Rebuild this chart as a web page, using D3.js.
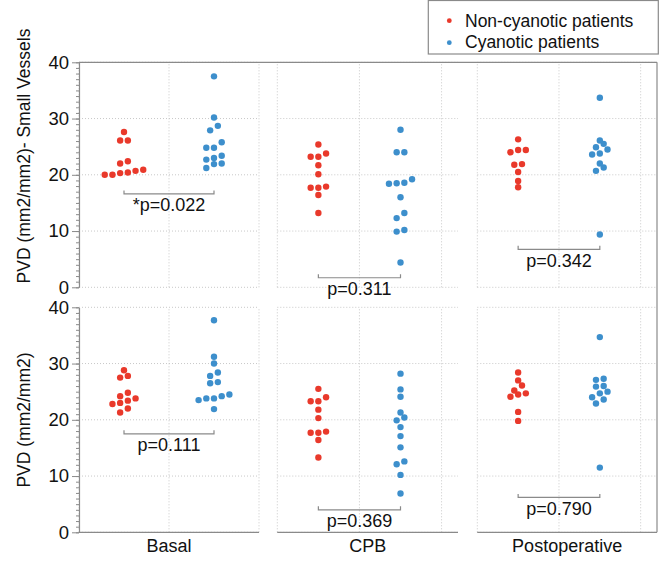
<!DOCTYPE html>
<html>
<head>
<meta charset="utf-8">
<script src="https://cdn.jsdelivr.net/npm/d3@7"></script>
<style>
  body { margin: 0; background: #fff; }
  text { font-family: Helvetica, "Liberation Sans", Arial, sans-serif; }
</style>
</head>
<body>
<div class="canvas"></div>
<script>
// Data
const groups = ['Non-cyanotic patients', 'Cyanotic patients'];
const periods = ['Basal', 'CPB', 'Postoperative'];
const rowTitles = ['PVD (mm2/mm2)- Small Vessels', 'PVD (mm2/mm2)'];

// small vessels, one array per period
const smallNon = [
    [20.0, 20.0, 20.3, 20.4, 20.7, 20.9, 22.0, 22.4, 26.1, 26.1, 27.6],
    [13.2, 16.4, 17.7, 17.7, 17.9, 20.1, 21.7, 23.2, 23.2, 23.8, 25.4],
    [17.8, 18.9, 20.5, 21.8, 21.9, 24.0, 24.4, 24.4, 26.3]
];
const smallCyan = [
    [21.2, 21.9, 22.0, 22.7, 23.0, 23.4, 24.8, 24.8, 25.8, 27.9, 28.7, 30.2, 37.5],
    [4.4, 9.9, 10.2, 12.3, 13.2, 16.0, 18.4, 18.5, 18.6, 19.2, 24.0, 24.0, 28.0],
    [9.4, 20.7, 21.3, 22.0, 23.6, 23.8, 24.5, 24.9, 25.5, 26.1, 33.7]
];

// all vessels
const totalNon = [
    [21.3, 22.0, 22.8, 23.0, 23.4, 23.8, 24.2, 24.8, 27.5, 27.8, 28.8],
    [13.3, 16.4, 17.7, 17.7, 17.9, 20.3, 21.8, 23.3, 23.3, 24.0, 25.5],
    [19.8, 21.4, 24.1, 24.5, 24.7, 25.2, 26.1, 27.0, 28.4]
];
const totalCyan = [
    [21.9, 23.5, 23.8, 23.8, 24.2, 24.5, 26.5, 26.7, 27.8, 28.4, 30.0, 31.2, 37.7],
    [6.9, 10.2, 12.1, 12.6, 15.1, 17.1, 18.7, 19.9, 20.4, 21.3, 24.1, 25.4, 28.2],
    [11.5, 22.9, 23.6, 24.0, 24.7, 25.0, 25.9, 26.0, 27.1, 27.3, 34.7]
];

const pSmall = ['*p=0.022', 'p=0.311', 'p=0.342'];
const pTotal = ['p=0.111', 'p=0.369', 'p=0.790'];
const yTicks = [0, 10, 20, 30, 40];

// Layout
const dims = { width: 662, height: 561, rowH: 225 };
const colors = ['#e9392b', '#3d8fcc'];
const axisColor = '#8a8a8a';
const gridColor = '#c8c8c8';

const rows = [
    { title: rowTitles[0], non: smallNon, cyan: smallCyan, p: pSmall, top: 62.3, bracket: [16.6, 1.7, 6.75], titleY: 156 },
    { title: rowTitles[1], non: totalNon, cyan: totalCyan, p: pTotal, top: 307.3, bracket: [17.5, 4.0, 6.2], titleY: 420 }
];
const cols = [
    { x0: 79, x1: 259, dom: [0.5, 2.5] },
    { x0: 277.3, x1: 458, dom: [0.5, 2.7] },
    { x0: 477.3, x1: 657, dom: [0.5, 2.7] }
];

const svg = d3.select('.canvas')
    .append('svg')
    .attr('width', dims.width)
    .attr('height', dims.height);

// spread points of similar value side by side (simple dot-density binning)
const spread = (values, bw) => {
    const sorted = values.map(v => ({ v })).sort((a, b) => a.v - b.v);
    const bins = [];
    let cur = null;
    sorted.forEach(d => {
        if (!cur || d.v >= cur.start + bw) {
            cur = { start: d.v, items: [] };
            bins.push(cur);
        }
        cur.items.push(d);
    });
    bins.forEach(b => b.items.forEach((d, i) => d.k = i - (b.items.length - 1) / 2));
    return sorted;
};

rows.forEach((row, r) => {
    const y = d3.scaleLinear().domain([0, 40]).range([row.top + dims.rowH, row.top]);

    cols.forEach((col, c) => {
        const x = d3.scaleLinear().domain(col.dom).range([col.x0, col.x1]);
        const g = svg.append('g');

        // dotted grid
        g.selectAll('line.hgrid')
            .data(yTicks)
            .enter().append('line')
                .attr('x1', col.x0).attr('x2', col.x1)
                .attr('y1', d => y(d)).attr('y2', d => y(d))
                .attr('stroke', gridColor)
                .attr('stroke-dasharray', '1,2');

        g.selectAll('line.vgrid')
            .data([0.5, 1.5, 2.5])
            .enter().append('line')
                .attr('x1', d => x(d)).attr('x2', d => x(d))
                .attr('y1', y(0)).attr('y2', y(40))
                .attr('stroke', gridColor)
                .attr('stroke-dasharray', '1,2');

        // points
        [row.non[c], row.cyan[c]].forEach((vals, gi) => {
            g.selectAll(null)
                .data(spread(vals, 1.05))
                .enter().append('circle')
                    .attr('cx', d => x(gi + 1) + d.k * 7.7)
                    .attr('cy', d => y(d.v))
                    .attr('r', 3.2)
                    .attr('fill', colors[gi]);
        });

        // p-value bracket
        const by = y(row.bracket[c]);
        g.append('path')
            .attr('d', `M${x(1)},${by - 3.5}V${by}H${x(2)}V${by - 3.5}`)
            .attr('fill', 'none')
            .attr('stroke', axisColor)
            .attr('stroke-width', 1.2);

        g.append('text')
            .attr('x', x(1.5))
            .attr('y', by + 17.5)
            .attr('text-anchor', 'middle')
            .attr('font-size', 18)
            .attr('fill', '#111')
            .text(row.p[c]);

        // bottom axis line and category label (lower row only)
        if (r === 1) {
            g.append('line')
                .attr('x1', col.x0).attr('x2', col.x1)
                .attr('y1', y(0)).attr('y2', y(0))
                .attr('stroke', axisColor)
                .attr('stroke-width', 1.2);

            g.append('text')
                .attr('x', (col.x0 + col.x1) / 2)
                .attr('y', 552)
                .attr('text-anchor', 'middle')
                .attr('font-size', 18)
                .attr('fill', '#111')
                .text(periods[c]);
        }
    });

    // left axis: minor ticks then major ticks with labels
    const minor = svg.append('g')
        .attr('transform', `translate(${cols[0].x0}, 0)`)
        .call(d3.axisLeft(y).tickValues(d3.range(0, 41, 1)).tickSize(3).tickSizeOuter(0).tickFormat(''));
    minor.select('.domain').remove();
    minor.selectAll('line').attr('stroke', axisColor);

    const major = svg.append('g')
        .attr('transform', `translate(${cols[0].x0}, 0)`)
        .call(d3.axisLeft(y).tickValues(yTicks).tickSize(7).tickSizeOuter(0));
    major.select('.domain').attr('stroke', axisColor).attr('stroke-width', 1.2);
    major.selectAll('line').attr('stroke', axisColor);
    major.selectAll('text')
        .attr('font-size', 18.5)
        .attr('fill', '#111')
        .style('font-family', 'Helvetica, "Liberation Sans", Arial, sans-serif');

    svg.append('text')
        .attr('transform', `translate(30, ${row.titleY}) rotate(-90)`)
        .attr('text-anchor', 'middle')
        .attr('font-size', 17.5)
        .attr('fill', '#111')
        .text(row.title);
});

// top border and right border
svg.append('line')
    .attr('x1', cols[0].x0).attr('x2', cols[2].x1)
    .attr('y1', rows[0].top).attr('y2', rows[0].top)
    .attr('stroke', axisColor).attr('stroke-width', 1.2);
svg.append('line')
    .attr('x1', cols[2].x1).attr('x2', cols[2].x1)
    .attr('y1', rows[0].top).attr('y2', rows[1].top + dims.rowH)
    .attr('stroke', axisColor).attr('stroke-width', 1.2);

// Legend
const legendGroup = svg.append('g');
legendGroup.append('rect')
    .attr('x', 428.3).attr('y', 0.5)
    .attr('width', 230).attr('height', 53.5)
    .attr('fill', '#fff')
    .attr('stroke', axisColor)
    .attr('stroke-width', 1.2);

groups.forEach((name, i) => {
    legendGroup.append('circle')
        .attr('cx', 449.3)
        .attr('cy', 20.7 + i * 22)
        .attr('r', 2.4)
        .attr('fill', colors[i]);
    legendGroup.append('text')
        .attr('x', 465)
        .attr('y', 26.7 + i * 21.6)
        .attr('font-size', 17.5)
        .attr('fill', '#111')
        .text(name);
});
</script>
</body>
</html>
